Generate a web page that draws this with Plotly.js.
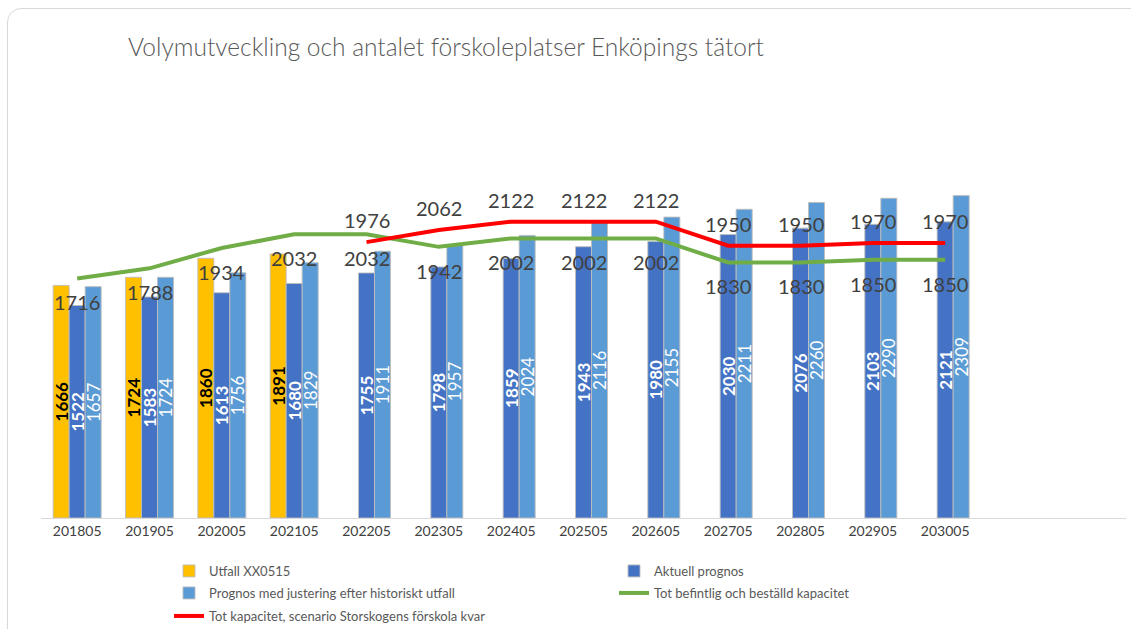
<!DOCTYPE html>
<html><head><meta charset="utf-8">
<script src="https://cdn.plot.ly/plotly-3.0.1.min.js"></script>
<style>
html,body{margin:0;padding:0;background:#fff;overflow:hidden}
#chart{position:absolute;left:0;top:0;width:1131px;height:629px}
#frame{position:absolute;left:7px;top:8px;width:1150px;height:650px;border:1px solid #d9d9d9;border-radius:14px;pointer-events:none}
#err{position:absolute;left:10px;top:100px;color:#c00;font:12px monospace}
</style></head><body>
<div id="chart"></div><div id="frame"></div><div id="err"></div>
<script>
const categories = ['201805','201905','202005','202105','202205','202305','202405','202505','202605','202705','202805','202905','203005'];
const utfall    = [1666, 1724, 1860, 1891, null, null, null, null, null, null, null, null, null];
const aktuell   = [1522, 1583, 1613, 1680, 1755, 1798, 1859, 1943, 1980, 2030, 2076, 2103, 2121];
const justerad  = [1657, 1724, 1756, 1829, 1911, 1957, 2024, 2116, 2155, 2211, 2260, 2290, 2309];
const befintlig = [1716, 1788, 1934, 2032, 2032, 1942, 2002, 2002, 2002, 1830, 1830, 1850, 1850];
const scenario  = [null, null, null, null, 1976, 2062, 2122, 2122, 2122, 1950, 1950, 1970, 1970];

const names = ['Utfall XX0515', 'Aktuell prognos', 'Prognos med justering efter historiskt utfall',
               'Tot befintlig och beställd kapacitet', 'Tot kapacitet, scenario Storskogens förskola kvar'];

const FONT = 'Lato, "Open Sans", sans-serif';
const lbl = v => (v == null ? '' : String(v));
const edge = {color: 'rgba(190,190,190,0.9)', width: 1};

const traces = [
  {type:'bar', name:names[0], x:categories, y:utfall, text:utfall.map(lbl),
   marker:{color:'#FFC000', line:edge}, textposition:'inside', textangle:-90, constraintext:'none',
   insidetextanchor:'middle', textfont:{family:FONT, size:17, color:'#000000', weight:700}, legend:'legend', hoverinfo:'skip'},
  {type:'bar', name:names[1], x:categories, y:aktuell, text:aktuell.map(lbl),
   marker:{color:'#4472C4', line:edge}, textposition:'inside', textangle:-90, constraintext:'none',
   insidetextanchor:'middle', textfont:{family:FONT, size:17, color:'#ffffff', weight:700}, legend:'legend', hoverinfo:'skip'},
  {type:'bar', name:names[2], x:categories, y:justerad, text:justerad.map(lbl),
   marker:{color:'#5B9BD5', line:edge}, textposition:'inside', textangle:-90, constraintext:'none',
   insidetextanchor:'middle', textfont:{family:FONT, size:17, color:'#ffffff'}, legend:'legend2', hoverinfo:'skip'},
  {type:'scatter', mode:'lines', name:names[3], x:categories, y:befintlig,
   line:{color:'#70AD47', width:4}, legend:'legend2', hoverinfo:'skip'},
  {type:'scatter', mode:'lines', name:names[4], x:categories, y:scenario,
   line:{color:'#FF0000', width:4}, legend:'legend3', hoverinfo:'skip'}
];

const annFont = {family:FONT, size:20, color:'#404040'};
const annotations = [];
befintlig.forEach((v,i) => { if (v != null) annotations.push({x:i, y:v, xref:'x', yref:'y', text:String(v),
  showarrow:false, yshift:-24, xanchor:'center', yanchor:'middle', font:annFont}); });
scenario.forEach((v,i) => { if (v != null) annotations.push({x:i, y:v, xref:'x', yref:'y', text:String(v),
  showarrow:false, yshift:22, xanchor:'center', yanchor:'middle', font:annFont}); });

const legBase = {orientation:'h', xref:'container', yref:'container', xanchor:'left', yanchor:'middle',
  x:169/1131, entrywidth:400, itemwidth:30, font:{family:FONT, size:13, color:'#595959'},
  bgcolor:'rgba(0,0,0,0)', traceorder:'normal'};

const layout = {
  width:1131, height:629,
  margin:{l:41, r:5, t:80, b:111},
  paper_bgcolor:'#ffffff', plot_bgcolor:'#ffffff',
  title:{text:'Volymutveckling och antalet förskoleplatser Enköpings tätort',
    xref:'container', yref:'container', x:128/1131, xanchor:'left', y:1-47/629, yanchor:'middle',
    font:{family:FONT, size:24.5, color:'#595959', weight:300}},
  barmode:'group', bargap:0.336, bargroupgap:0,
  xaxis:{type:'category', categoryarray:categories, categoryorder:'array', range:[-0.5, 14.5], showgrid:false, zeroline:false,
    showline:true, linecolor:'#d9d9d9', linewidth:1, ticks:'', tickfont:{family:FONT, size:14, color:'#404040'},
    fixedrange:true},
  yaxis:{range:[0, 3137], showgrid:false, zeroline:false, showline:false, showticklabels:false, ticks:'', fixedrange:true},
  showlegend:true,
  legend: Object.assign({}, legBase, {y:1-571/629}),
  legend2: Object.assign({}, legBase, {y:1-593/629}),
  legend3: Object.assign({}, legBase, {y:1-616/629}),
  annotations: annotations
};

try {
  Plotly.newPlot('chart', traces, layout, {displayModeBar:false, staticPlot:true})
    .catch(e => { document.getElementById('err').textContent = 'ERR ' + e; });
} catch (e) { document.getElementById('err').textContent = 'ERR ' + e; }
</script>
</body></html>
